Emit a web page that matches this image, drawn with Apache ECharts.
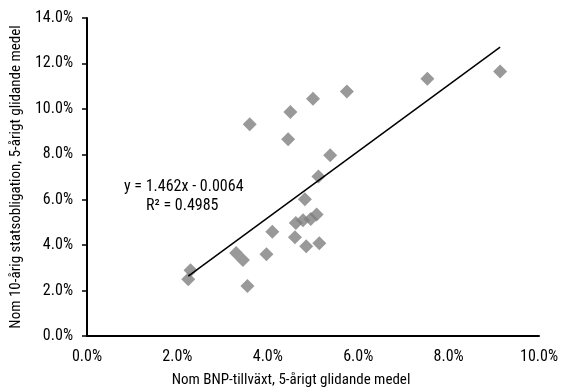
<!DOCTYPE html>
<html>
<head>
<meta charset="utf-8">
<script src="https://cdn.jsdelivr.net/npm/echarts@6/dist/echarts.min.js"></script>
<style>
	html, body { margin: 0; padding: 0; background: #fff; }
	#chart { width: 561px; height: 392px; }
</style>
</head>
<body>
<div id="chart"></div>
<script>
// BNP-tillväxt (x) och statsobligationsränta (y), 5-årigt glidande medel
var gdpGrowth = [0.0224, 0.0229, 0.0330, 0.0345, 0.0355, 0.0360, 0.0397, 0.0410, 0.0445, 0.0450,
	0.0460, 0.0462, 0.0478, 0.0482, 0.0485, 0.0495, 0.0500, 0.0508, 0.0512, 0.0514,
	0.0538, 0.0575, 0.0753, 0.0914];
var bondYield = [0.0250, 0.0290, 0.0365, 0.0335, 0.0220, 0.0932, 0.0360, 0.0459, 0.0866, 0.0986,
	0.0435, 0.0497, 0.0510, 0.0602, 0.0395, 0.0515, 0.1045, 0.0535, 0.0702, 0.0408,
	0.0796, 0.1076, 0.1133, 0.1165];
// trendlinjens ändpunkter
var trendX = [0.0224, 0.0914];
var trendY = [0.0264, 0.1272];
var xTicks = ['0.0%', '2.0%', '4.0%', '6.0%', '8.0%', '10.0%'];
var yTicks = ['0.0%', '2.0%', '4.0%', '6.0%', '8.0%', '10.0%', '12.0%', '14.0%'];
var equationText = 'y = 1.462x - 0.0064';
var r2Text = 'R² = 0.4985';

var font = "'Roboto Condensed', 'Liberation Sans Narrow', sans-serif";

var points = gdpGrowth.map(function(x, i) { return [x, bondYield[i]]; });
var trend = trendX.map(function(x, i) { return [x, trendY[i]]; });

var myChart = echarts.init(document.getElementById('chart'));
var option = {
	animation: false,
	grid: { left: 87, right: 22, top: 18, bottom: 56, containLabel: false, outerBoundsMode: 'none' },
	xAxis: {
		type: 'value',
		min: 0, max: 0.10, interval: 0.02,
		name: 'Nom BNP-tillväxt, 5-årigt glidande medel',
		nameLocation: 'middle',
		nameGap: 37,
		nameTextStyle: { fontFamily: font, fontSize: 15, color: '#000', padding: [0, 44, 0, 0] },
		axisLine: { show: true, lineStyle: { color: '#000', width: 2 } },
		axisTick: { show: false },
		splitLine: { show: false },
		axisLabel: {
			margin: 13,
			fontFamily: font, fontSize: 16, color: '#000',
			formatter: function(v) { return xTicks[Math.round(v / 0.02)]; }
		}
	},
	yAxis: {
		type: 'value',
		min: 0, max: 0.14, interval: 0.02,
		name: 'Nom 10-årig statsobligation, 5-årigt glidande medel',
		nameLocation: 'middle',
		nameGap: 59,
		nameTextStyle: { fontFamily: font, fontSize: 15, color: '#000' },
		axisLine: { show: true, lineStyle: { color: '#000', width: 2 } },
		axisTick: { show: true, inside: false, length: 5, lineStyle: { color: '#000', width: 1.5 } },
		splitLine: { show: false },
		axisLabel: {
			margin: 14,
			fontFamily: font, fontSize: 16, color: '#000',
			formatter: function(v) { return yTicks[Math.round(v / 0.02)]; }
		}
	},
	series: [{
		type: 'scatter',
		data: points,
		symbol: 'diamond',
		symbolSize: 14,
		itemStyle: { color: '#7f7f7f' },
		z: 2
	}, {
		type: 'line',
		data: trend,
		symbol: 'none',
		lineStyle: { color: '#000', width: 1.5 },
		z: 3
	}],
	graphic: [{
		type: 'text',
		left: 124, top: 179,
		style: { text: equationText, font: '16px ' + font, fill: '#000' }
	}, {
		type: 'text',
		left: 146, top: 198,
		style: { text: r2Text, font: '16px ' + font, fill: '#000' }
	}]
};
myChart.setOption(option);
</script>
</body>
</html>
